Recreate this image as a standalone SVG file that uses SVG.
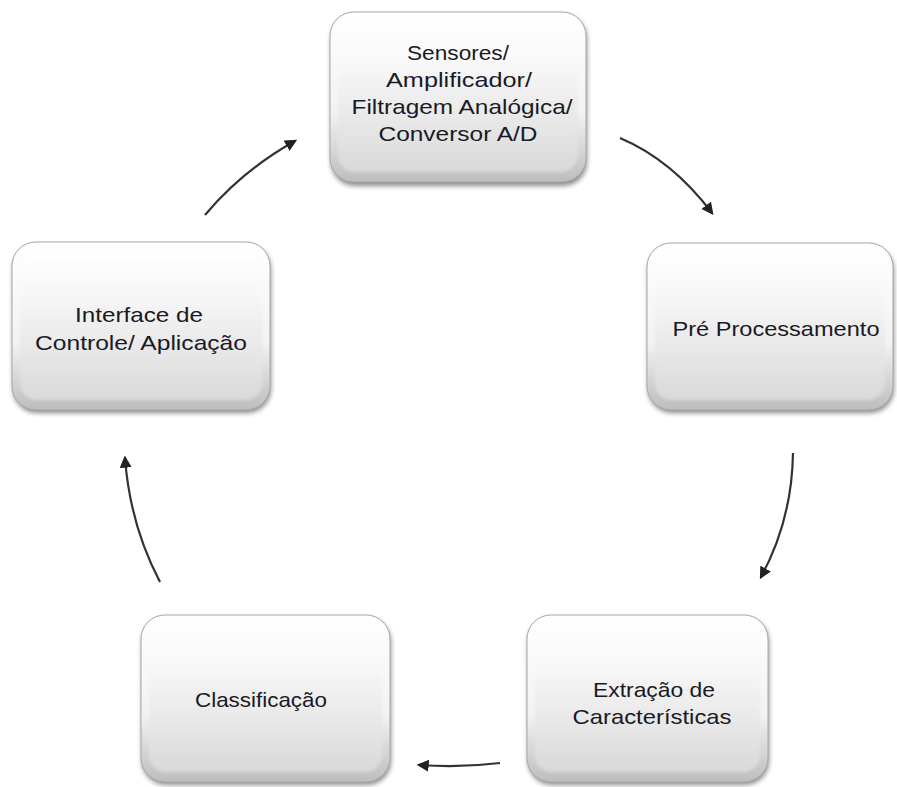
<svg xmlns="http://www.w3.org/2000/svg" width="897" height="787" viewBox="0 0 897 787">
<defs>
<linearGradient id="outerG" x1="0" y1="0" x2="0" y2="1">
<stop offset="0" stop-color="#ffffff"/>
<stop offset="0.6" stop-color="#f2f2f2"/>
<stop offset="1" stop-color="#bdbdbd"/>
</linearGradient>
<linearGradient id="innerG" x1="0" y1="0" x2="0" y2="1">
<stop offset="0" stop-color="#ffffff"/>
<stop offset="0.3" stop-color="#f7f7f7"/>
<stop offset="1" stop-color="#d9d9d9"/>
</linearGradient>
<filter id="shadow" x="-10%" y="-10%" width="120%" height="125%">
<feGaussianBlur stdDeviation="2.5"/>
</filter>
<filter id="soft" x="-10%" y="-10%" width="120%" height="120%">
<feGaussianBlur stdDeviation="1.5"/>
</filter>
<filter id="blurLine" filterUnits="userSpaceOnUse" x="0" y="0" width="897" height="787">
<feGaussianBlur stdDeviation="0.6"/>
</filter>
<marker id="arrow" viewBox="0 0 10 10" refX="8" refY="5" markerWidth="5.5" markerHeight="5.5" orient="auto" markerUnits="strokeWidth">
<path d="M0,0 L10,5 L0,10 z" fill="#222"/>
</marker>
</defs>
<style>
.shadow{fill:#000;opacity:0.45;filter:url(#shadow)}
.outer{fill:url(#outerG);stroke:#a8a8a8;stroke-width:1}
.inner{fill:url(#innerG);filter:url(#soft)}
.lbl{font-family:"Liberation Sans",Arial,sans-serif;font-size:21px;fill:#1a1a24;text-anchor:middle}
.conn{fill:none;stroke:#333;stroke-width:2.2;marker-end:url(#arrow);filter:url(#blurLine)}
</style>
<rect width="897" height="787" fill="#ffffff"/>

<g id="node-sensores">
<rect class="shadow" x="331" y="15" width="256" height="171" rx="24"/>
<rect class="outer" x="330" y="12" width="256" height="170" rx="24"/>
<rect class="inner" x="338" y="20" width="240" height="152" rx="17"/>
<text class="lbl" x="458" y="60" textLength="102" lengthAdjust="spacingAndGlyphs">Sensores/</text>
<text class="lbl" x="459" y="87" textLength="146" lengthAdjust="spacingAndGlyphs">Amplificador/</text>
<text class="lbl" x="462" y="114" textLength="221" lengthAdjust="spacingAndGlyphs">Filtragem Analógica/</text>
<text class="lbl" x="458" y="141" textLength="159" lengthAdjust="spacingAndGlyphs">Conversor A/D</text>
</g>

<g id="node-pre">
<rect class="shadow" x="648" y="246" width="246" height="167" rx="24"/>
<rect class="outer" x="647" y="243" width="246" height="167" rx="24"/>
<rect class="inner" x="655" y="251" width="230" height="149" rx="17"/>
<text class="lbl" x="776" y="336" textLength="207" lengthAdjust="spacingAndGlyphs">Pré Processamento</text>
</g>

<g id="node-interface">
<rect class="shadow" x="13" y="245" width="258" height="168" rx="24"/>
<rect class="outer" x="12" y="242" width="258" height="168" rx="24"/>
<rect class="inner" x="20" y="250" width="242" height="150" rx="17"/>
<text class="lbl" x="139" y="322" textLength="128" lengthAdjust="spacingAndGlyphs">Interface de</text>
<text class="lbl" x="141" y="350" textLength="212" lengthAdjust="spacingAndGlyphs">Controle/ Aplicação</text>
</g>

<g id="node-classificacao">
<rect class="shadow" x="142" y="618" width="249" height="167" rx="24"/>
<rect class="outer" x="141" y="615" width="249" height="167" rx="24"/>
<rect class="inner" x="149" y="623" width="233" height="149" rx="17"/>
<text class="lbl" x="261" y="707" textLength="132" lengthAdjust="spacingAndGlyphs">Classificação</text>
</g>

<g id="node-extracao">
<rect class="shadow" x="528" y="618" width="241" height="167" rx="24"/>
<rect class="outer" x="527" y="615" width="241" height="167" rx="24"/>
<rect class="inner" x="535" y="623" width="225" height="149" rx="17"/>
<text class="lbl" x="654" y="697" textLength="122" lengthAdjust="spacingAndGlyphs">Extração de</text>
<text class="lbl" x="652" y="724" textLength="159" lengthAdjust="spacingAndGlyphs">Características</text>
</g>

<g id="connectors">
<path class="conn" d="M620,138 Q672,160 712,213"/>
<path class="conn" d="M793,453 Q792,520 761,577"/>
<path class="conn" d="M500,763 Q460,768 419,765"/>
<path class="conn" d="M160,582 Q130,525 125,458"/>
<path class="conn" d="M205,215 Q243,170 295,141"/>
</g>
</svg>
